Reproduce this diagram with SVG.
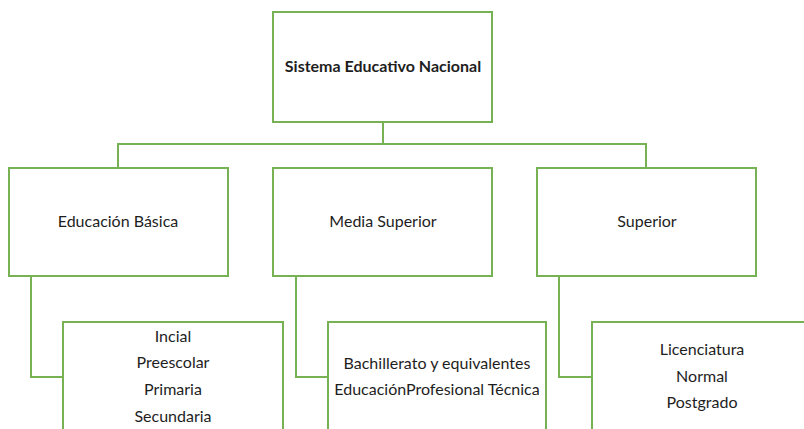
<svg xmlns="http://www.w3.org/2000/svg" width="804" height="429" viewBox="0 0 804 429">
<style>
.box{fill:#fff;stroke:#76b254;stroke-width:2}
.con{fill:none;stroke:#76b254;stroke-width:2}
text{font-family:Lato,"Open Sans","Liberation Sans",sans-serif;font-size:16px;fill:#1e1e1e;text-anchor:middle}
.b{font-weight:bold}
</style>
<rect width="804" height="429" fill="#fff"/>
<g id="connectors">
<path class="con" d="M383 122V144M118 168V144H646V168"/>
<path class="con" d="M31 276V377H63"/>
<path class="con" d="M296 276V377H328"/>
<path class="con" d="M559 276V377H592"/>
</g>
<g id="n-root">
<rect class="box" x="273" y="12" width="219" height="110"/>
<text class="b" x="383" y="72">Sistema Educativo Nacional</text>
</g>
<g id="n-basica">
<rect class="box" x="9" y="168" width="219" height="108"/>
<text x="118" y="227">Educación Básica</text>
</g>
<g id="n-media">
<rect class="box" x="273" y="168" width="219" height="108"/>
<text x="383" y="227">Media Superior</text>
</g>
<g id="n-superior">
<rect class="box" x="537" y="168" width="219" height="108"/>
<text x="647" y="227">Superior</text>
</g>
<g id="n-basica-list">
<rect class="box" x="63" y="322" width="220" height="120"/>
<text x="173" y="342">Incial</text>
<text x="173" y="368">Preescolar</text>
<text x="173" y="395">Primaria</text>
<text x="173" y="422">Secundaria</text>
</g>
<g id="n-media-list">
<rect class="box" x="328" y="322" width="218" height="120"/>
<text x="437" y="369">Bachillerato y equivalentes</text>
<text x="437" y="395">EducaciónProfesional Técnica</text>
</g>
<g id="n-superior-list">
<rect class="box" x="592" y="322" width="230" height="120"/>
<text x="702" y="355">Licenciatura</text>
<text x="702" y="382">Normal</text>
<text x="702" y="408">Postgrado</text>
</g>
</svg>
